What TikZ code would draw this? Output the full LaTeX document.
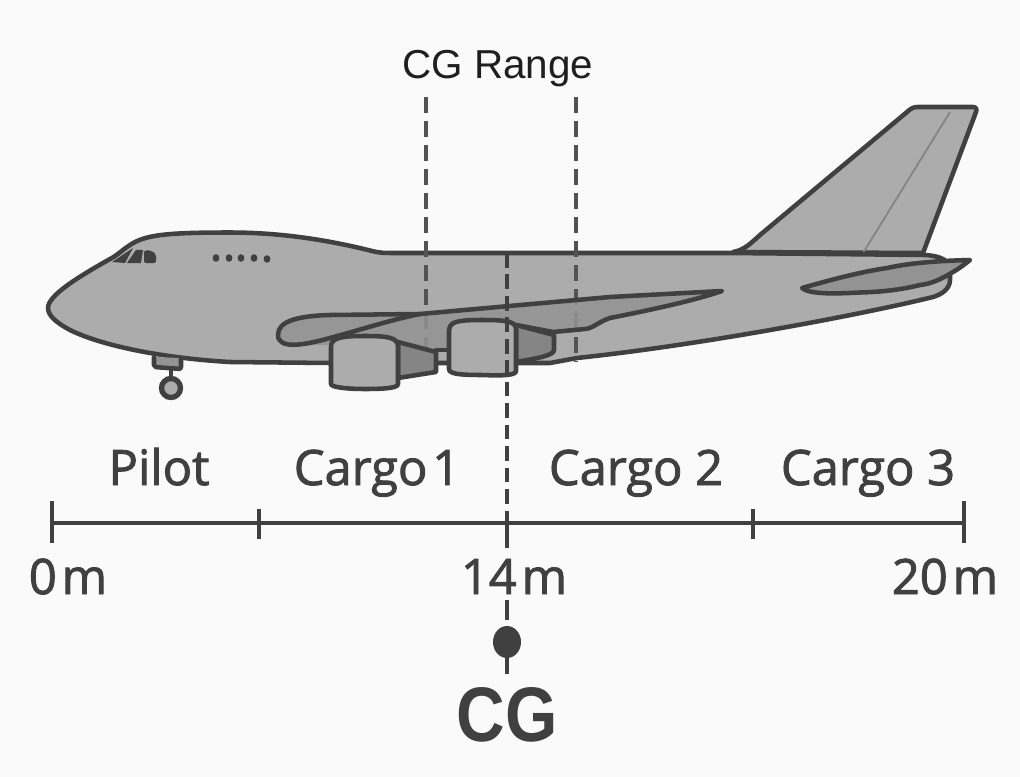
\documentclass[tikz,border=0pt]{standalone}
\usepackage{fontspec}
\setmainfont{Open Sans}
\newfontfamily\labelfont[FakeBold=1.8]{Open Sans}
\newfontfamily\lib{Liberation Sans}
\definecolor{bgc}{HTML}{FAFAFA}
\definecolor{ink}{HTML}{404040}
\definecolor{body}{HTML}{ACACAC}
\definecolor{wingc}{HTML}{939393}
\definecolor{noz}{HTML}{858585}
\tikzset{
  outline/.style={draw=ink,line width=3.4pt,line join=round,line cap=round},
  bodyfill/.style={fill=body},
  rangeline/.style={draw=ink!90,line width=3pt,dash pattern=on 12pt off 6pt},
  cgline/.style={draw=ink,line width=3.3pt},
  axisline/.style={draw=ink,line width=2.8pt},
  tick/.style={draw=ink,line width=2.5pt},
  label/.style={text=ink,anchor=base,inner sep=0pt,font=\labelfont\fontsize{36.6}{40}\selectfont},
}
\begin{document}
\begin{tikzpicture}[x=0.75pt,y=-0.75pt]
\useasboundingbox (0,0) rectangle (1020,777);
\fill[bgc] (0,0) rectangle (1020,777);
% fin
\path[outline,bodyfill] (733,252) .. controls (745,250) and (752,242) .. (760,235) -- (907,112) .. controls (911,108) and (914,107) .. (918,107) -- (973,107) .. controls (976,107) and (977,109) .. (976,112) -- (923,253) -- cycle;
\draw[color=noz,line width=1.4pt] (950,112) -- (863,253);
% fuselage
\path[outline,bodyfill] (48,308) .. controls (48,295) and (80,276) .. (110,259) .. controls (118,255) and (122,250) .. (130,245) .. controls (145,235) and (165,232.5) .. (230,232.5) .. controls (290,232.5) and (340,243) .. (372,251) .. controls (380,253) and (385,253) .. (392,253) -- (730,253) -- (925,255) .. controls (940,256) and (950,260) .. (950,270) -- (950,280) .. controls (950,288) and (943,294) .. (933,297) .. controls (860,315) and (700,345) .. (577,358) -- (550,363) -- (330,363) -- (230,362) .. controls (160,358) and (100,345) .. (70,330) .. controls (55,322) and (48,315) .. (48,308) -- cycle;
% stabiliser
\path[outline,fill=wingc] (802,288) .. controls (830,280) and (860,272) .. (887,268) .. controls (905,264) and (930,261) .. (970,260) .. controls (965,264) and (960,268) .. (953,272) .. controls (940,280) and (930,284) .. (920,285) .. controls (900,290) and (880,292) .. (860,292.5) .. controls (840,293.5) and (810,295) .. (802,288) -- cycle;
% range lines
\coordinate (ra) at (426,97); \coordinate (rb) at (426,352);
\coordinate (rc) at (576,97); \coordinate (rd) at (576,362);
\draw[rangeline] (ra) -- (rb);
\draw[rangeline] (rc) -- (rd);
% wing fill
\fill[wingc,fill opacity=.85] (278,335) .. controls (278,322) and (295,316) .. (330,315) -- (420,314) -- (610,297) -- (722,291) .. controls (690,302) and (640,312) .. (610,318) .. controls (598,322) and (594,328) .. (585,329) -- (553,332) -- (516,325) -- (516,350) -- (436,352) -- (398,342) -- (330,345) -- (303,345) .. controls (285,347) and (278,342) .. (278,335) -- cycle;
% wing strokes
\draw[outline] (330,338) .. controls (305,345) and (278,350) .. (278,335) .. controls (278,322) and (295,316) .. (330,315) -- (420,314) -- (610,297) -- (722,291) .. controls (690,302) and (640,312) .. (610,318) .. controls (598,322) and (594,328) .. (585,329) -- (553,332) -- (516,325);
\draw[outline] (330,338) .. controls (360,330) and (390,320) .. (420,314);
% nozzles
\path[outline,fill=noz] (398,342) -- (436,352) -- (436,372) -- (398,378) -- cycle;
\path[outline,fill=noz] (516,325) -- (554,335) -- (554,350) .. controls (554,355) and (540,358) .. (516,362) -- cycle;
\draw[outline] (436,350) -- (449,350);
% engines
\path[outline,bodyfill] (331,347) .. controls (331,338) and (340,336) .. (365,336) .. controls (390,336) and (398,338) .. (398,347) -- (398,384) .. controls (398,388) and (385,389) .. (365,389) .. controls (345,389) and (331,387) .. (331,384) -- cycle;
\path[outline,bodyfill] (449,332) .. controls (449,322) and (455,320) .. (482,320) .. controls (510,320) and (516,322) .. (516,330) -- (516,371) .. controls (516,375) and (505,376) .. (482,375) .. controls (460,375) and (449,374) .. (449,369) -- cycle;
% cockpit and cabin windows
\fill[ink] (112,262) -- (133,248) -- (125,263) -- cycle;
\fill[ink] (136,250) -- (143,250) -- (141,263) -- (127,263) -- cycle;
\fill[ink,rounded corners=1.5pt] (144,250.5) -- (151,250.5) -- (156,254) -- (156,263) -- (144,263) -- cycle;
\foreach \px/\py in {216/258,229/258,241/258,254/258,267/259}
  \fill[ink] (\px,\py) ellipse [x radius=3.4,y radius=3.8];
% nose gear
\draw[outline] (171,370) -- (171,378);
\path[outline,fill=wingc,rounded corners=1.5pt] (154,357) -- (154,367) -- (181,369) -- (181,358);
\path[draw=ink,line width=4pt,bodyfill] (171,388) circle [radius=9.5];
% CG line
\coordinate (ca) at (507,253); \coordinate (cb) at (507,511);
\coordinate (cc) at (507,548); \coordinate (cd) at (507,600);
\coordinate (ce) at (507,620); \coordinate (cf) at (507,674);
\draw[cgline,dash pattern=on 11pt off 5.1pt] (ca) -- (cb);
\draw[cgline] (cb) -- (cc);
\draw[cgline] (cd) -- (ce);
\draw[cgline] (507,650) -- (cf);
\fill[ink] (507,642) ellipse [x radius=14,y radius=16];
% axis
\coordinate (a0) at (52,523); \coordinate (a1) at (964,523);
\draw[axisline] (a0) -- (a1);
\draw[tick] (52,501) -- (52,543);
\draw[tick] (259,509) -- (259,539);
\draw[tick] (753,509) -- (753,539);
\draw[tick] (964,501) -- (964,543);
% labels
\node[label] (pilot) at (159,485) {Pilot};
\node[label] (c1) at (377,485) {Cargo\hspace{.1em}1};
\node[label] (c2) at (636,485) {Cargo 2};
\node[label] (c3) at (868,485) {Cargo 3};
\node[label] (m0) at (68,594) {0\hspace{.1em}m};
\node[label] (m14) at (514,594) {14\hspace{.1em}m};
\node[label] (m20) at (945,594) {20\hspace{.1em}m};
\node[anchor=base,inner sep=0pt,font=\lib\fontsize{30.3}{34}\selectfont,text=black!88] (range) at (498,79) {CG Range};
\node[anchor=base,inner sep=0pt,xscale=.87,font=\lib\bfseries\fontsize{58}{62}\selectfont,text=ink] (cg) at (507,741) {CG};
\end{tikzpicture}
\end{document}
